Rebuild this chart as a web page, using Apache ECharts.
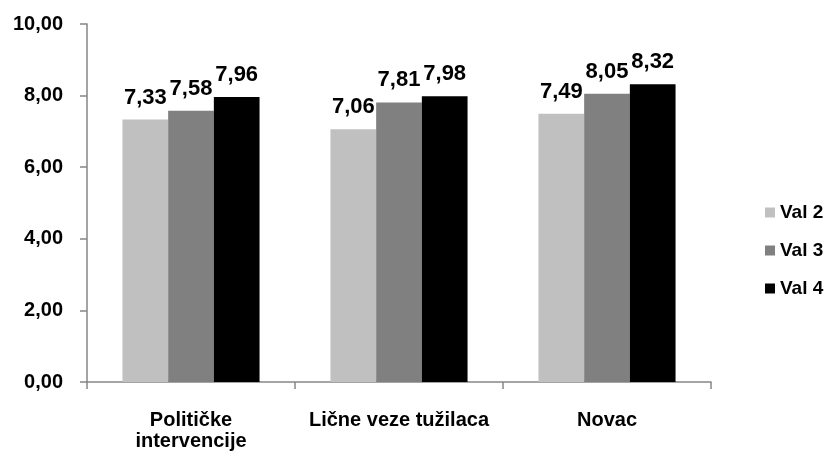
<!DOCTYPE html>
<html>
<head>
<meta charset="UTF-8">
<title>Val 2 / Val 3 / Val 4</title>
<script src="https://cdn.jsdelivr.net/npm/echarts@6/dist/echarts.min.js"></script>
<style>
  html, body { margin: 0; padding: 0; background: #fff; }
  #main { width: 826px; height: 455px; }
</style>
</head>
<body>
<div id="main"></div>
<script>
// podaci
var categories = ['Političke\nintervencije', 'Lične veze tužilaca', 'Novac'];
var val2 = [7.33, 7.06, 7.49];
var val3 = [7.58, 7.81, 8.05];
var val4 = [7.96, 7.98, 8.32];
var seriesNames = ['Val 2', 'Val 3', 'Val 4'];
var seriesColors = ['#c0c0c0', '#808080', '#000000'];

var font = 'Arial, "Liberation Sans", sans-serif';
var fmt = function (v) { return v.toFixed(2).replace('.', ','); };

var myChart = echarts.init(document.getElementById('main'));

var series = [val2, val3, val4].map(function (d, i) {
  return {
    name: seriesNames[i],
    type: 'bar',
    data: d,
    barWidth: 45.7,
    barGap: '0%',
    itemStyle: { color: seriesColors[i] },
    label: {
      show: true,
      position: 'top',
      distance: 11,
      color: '#000',
      fontFamily: font,
      fontWeight: 'bold',
      fontSize: 22,
      formatter: function (p) { return fmt(p.value); }
    }
  };
});

var option = {
  animation: false,
  backgroundColor: '#fff',
  grid: { left: 87, top: 24, width: 624, height: 358 },
  legend: {
    orient: 'vertical',
    left: 760,
    top: 198,
    itemWidth: 10,
    itemHeight: 10,
    itemGap: 19,
    icon: 'rect',
    data: seriesNames,
    textStyle: { fontFamily: font, fontWeight: 'bold', fontSize: 19, color: '#000' }
  },
  xAxis: {
    type: 'category',
    data: categories,
    axisLine: { lineStyle: { color: '#868686', width: 1.5 } },
    axisTick: { show: true, length: 7, lineStyle: { color: '#868686', width: 1.5 } },
    axisLabel: {
      interval: 0,
      margin: 28,
      color: '#000',
      fontFamily: font,
      fontWeight: 'bold',
      fontSize: 20,
      lineHeight: 21
    }
  },
  yAxis: {
    type: 'value',
    min: 0,
    max: 10,
    interval: 2,
    splitLine: { show: false },
    axisLine: { show: true, lineStyle: { color: '#868686', width: 1.5 } },
    axisTick: { show: true, length: 7, lineStyle: { color: '#868686', width: 1.5 } },
    axisLabel: {
      margin: 24,
      color: '#000',
      fontFamily: font,
      fontWeight: 'bold',
      fontSize: 20,
      formatter: fmt
    }
  },
  series: series
};

myChart.setOption(option);
</script>
</body>
</html>
